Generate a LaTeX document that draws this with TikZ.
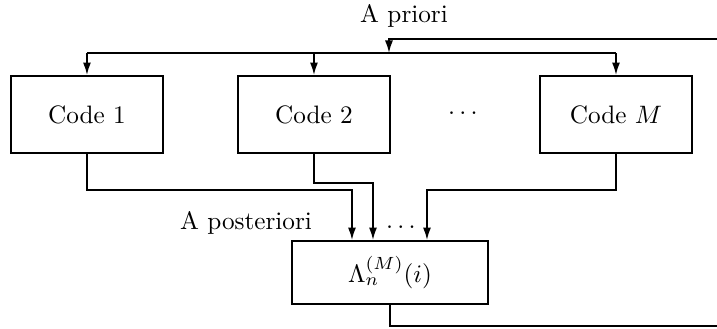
\documentclass[tikz,border=0pt]{standalone}
\usepackage{amsmath}
\usetikzlibrary{arrows.meta}

\tikzset{
  code/.style={draw, minimum width=2.12cm, minimum height=1.074cm, inner sep=0pt},
  llr/.style={draw, minimum width=2.734cm, minimum height=0.879cm, inner sep=0pt},
  arr/.style={-{Latex[length=5pt,width=3.2pt]}}
}

\begin{document}
\begin{tikzpicture}[line width=0.7pt]
    \useasboundingbox (0,0) rectangle (10,4.575);
    % the M decoders
    \node [code] (c1) at (1.213,2.978) {Code 1};
    \node [code] (c2) at (4.379,2.978) {Code 2};
    \node [code] (cM) at (8.591,2.978) {Code $M$};
    \node (dtop) at (6.485,2.999) {$\dots$};
    % combiner
    \node [llr] (lam) at (5.439,0.774) {$\Lambda_n^{(M)}(i)$};
    % a priori feedback bus
    \coordinate (fbin) at (10,4.031);
    \coordinate (b1) at (1.213,3.835);
    \coordinate (b2) at (4.379,3.835);
    \coordinate (bM) at (8.591,3.835);
    \coordinate (bin) at (5.425,3.835);
    \draw (b1)--(bM);
    \draw [arr] (b1)--(c1.north);
    \draw [arr] (b2)--(c2.north);
    \draw [arr] (bM)--(cM.north);
    \draw [arr] (fbin)-|(bin);
    \node (apri) at (5.635,4.351) {A priori};
    % a posteriori outputs
    \draw [arr] (c1.south)--++(0,-0.502)-|([xshift=-0.53cm]lam.north);
    \draw [arr] (c2.south)--++(0,-0.405)-|([xshift=-0.237cm]lam.north);
    \draw [arr] (cM.south)--++(0,-0.502)-|([xshift=0.516cm]lam.north);
    \node (apost) at (3.431,1.464) {A posteriori};
    \node (dbot) at (5.621,1.409) {$\dots$};
    % output back to the bus
    \coordinate (out) at (10,0.028);
    \draw (lam.south)|-(out);
  \end{tikzpicture}
\end{document}
